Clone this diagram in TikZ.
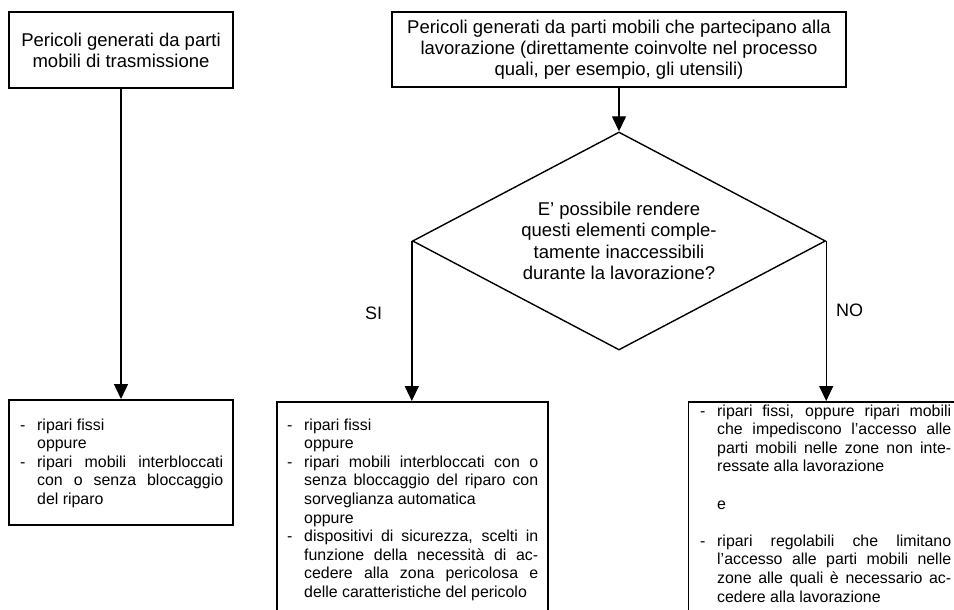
\documentclass[tikz,border=0pt]{standalone}
\usepackage{fontspec}
\setmainfont{Liberation Sans}
\usetikzlibrary{shapes.geometric,arrows.meta}
\newcommand{\impagina}{\parskip=0pt\relax\hyphenpenalty=10000\relax\tolerance=9999\relax}
\newcommand{\trattino}[1]{\noindent\hangindent=17pt\hangafter=1\makebox[17pt][l]{-}#1\par}
\newcommand{\rientro}[1]{\noindent\hspace*{17pt}#1\par}
\begin{document}
\begin{tikzpicture}[x=1pt,y=-1pt]
        \useasboundingbox (0,0) rectangle (954,610);
        \clip (0,0) rectangle (954,610);
        \begin{scope}[every node/.style={draw,line width=1.6pt,align=center,font=\fontsize{18.5}{21}\selectfont}]
          \node[minimum width=224pt,minimum height=76pt] (pm1) at (121,50) {Pericoli generati da parti\\mobili di trasmissione};
          \node[minimum width=454pt,minimum height=75pt] (pm2) at (619,49.5) {Pericoli generati da parti mobili che partecipano alla\\lavorazione (direttamente coinvolte nel processo\\quali, per esempio, gli utensili)};
          \node[diamond,aspect=1.9,minimum width=413pt,minimum height=218pt,line width=1.4pt,inner sep=0pt,font=\fontsize{18.5}{21.5}\selectfont] (dom) at (619,241) {E’ possibile rendere\\questi elementi comple-\\tamente inaccessibili\\durante la lavorazione?};
        \end{scope}
        \begin{scope}[every node/.style={draw,line width=1.6pt,anchor=north}]
          \node[minimum width=224pt,minimum height=125pt] (ml1) at (121,399) {};
          \node[minimum width=271pt,minimum height=230pt] (ms) at (412.5,401) {};
          \node[minimum width=272pt,minimum height=230pt] (md) at (824.5,401) {};
        \end{scope}
        \begin{scope}[every node/.style={anchor=base west,inner sep=0pt,align=justify,font=\fontsize{15.9}{18.6}\selectfont}]
          \node[text width=203pt] (tml1) at (20,430) {\impagina
            \trattino{ripari fissi}
            \rientro{oppure}
            \trattino{ripari mobili interbloccati con o senza bloccaggio\linebreak del riparo}};
          \node[text width=251pt] (tms) at (287,430) {\impagina
            \trattino{ripari fissi}
            \rientro{oppure}
            \trattino{ripari mobili interbloccati con o senza bloccaggio del riparo con sorveglianza automatica}
            \rientro{oppure}
            \trattino{dispositivi di sicurezza, scelti in funzione della necessità di ac-\linebreak cedere alla zona pericolosa e delle caratteristiche del pericolo}};
          \node[text width=251pt] (tmd) at (700,416) {\impagina
            \trattino{ripari fissi, oppure ripari mobili che impediscono l’accesso alle parti mobili nelle zone non inte-\linebreak ressate alla lavorazione}
            \rientro{\strut}
            \rientro{e}
            \rientro{\strut}
            \trattino{ripari regolabili che limitano l’accesso alle parti mobili nelle zone alle quali è necessario ac-\linebreak cedere alla lavorazione}};
        \end{scope}
        \begin{scope}[every edge/.style={draw=black,line width=1.4pt,-{Triangle[width=14pt,length=15pt]}}]
          \path (pm1) edge (ml1);
          \path (pm2) edge (dom);
          \path (dom.west) edge (dom.west |- ms.north);
          \path (dom.east) edge (dom.east |- md.north);
        \end{scope}
      \node[font=\fontsize{18}{21}\selectfont] (si) at (373.5,313) {SI};
      \node[font=\fontsize{18}{21}\selectfont] (no) at (849.5,310) {NO};
      \end{tikzpicture}
\end{document}
